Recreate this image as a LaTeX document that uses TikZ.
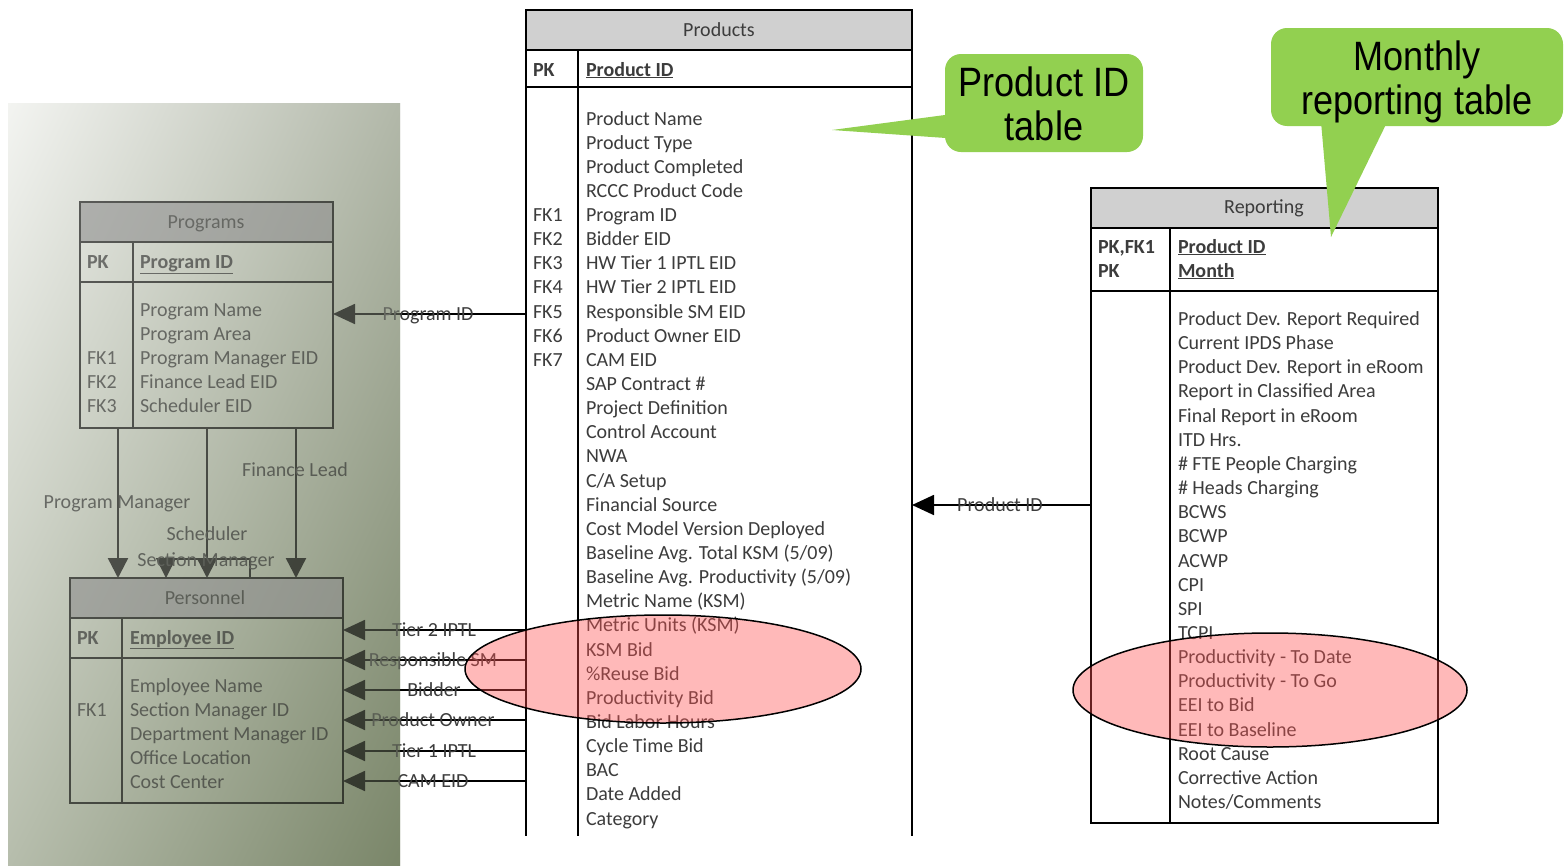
\documentclass[tikz,border=0pt]{standalone}
\usepackage{fontspec}
\setmainfont{Carlito}
\newfontfamily\arialfont{Liberation Sans}
\usetikzlibrary{arrows.meta,shadings}
\definecolor{hdr}{HTML}{D0D0D0}
\definecolor{phdr}{HTML}{8E8E8E}
\definecolor{txt}{HTML}{3C3C3C}
\definecolor{cgreen}{HTML}{92D050}
\definecolor{pinkf}{HTML}{FF5050}
\definecolor{pUL}{HTML}{F3F4F1}
\definecolor{pUR}{HTML}{B2B8A9}
\definecolor{pLL}{HTML}{B6BDAC}
\definecolor{pLR}{HTML}{7A8669}
\begin{document}
\begin{tikzpicture}[x=1pt,y=-1pt,
  every node/.style={inner sep=0pt, outer sep=0pt},
  rowtxt/.style={anchor=base west, font=\fontsize{20}{24}\selectfont, text=txt},
  ptxt/.style={rowtxt, text=black!85},
  hdrtxt/.style={anchor=base, font=\fontsize{20}{24}\selectfont, text=txt},
  lbl/.style={anchor=base, font=\fontsize{20}{24}\selectfont, text=txt},
  tblframe/.style={draw=black, line width=1.4pt, anchor=north west},
  tline/.style={draw=black, line width=1.4pt},
  harr/.style={draw=black, line width=1.8pt, -{Triangle[width=20pt,length=22pt]}},
  varr/.style={draw=black, line width=2.4pt, -{Triangle[width=20pt,length=20pt]}},
  ctxt/.style={anchor=base, font=\arialfont\fontsize{41}{44}\selectfont, text=black},
  callout/.style={fill=cgreen, rounded corners=16pt},
  hilite/.style={draw=black, line width=1.5pt, fill=pinkf, fill opacity=0.4}
]
\useasboundingbox (0,0) rectangle (1566,865);
\fill[white] (0,0) rectangle (1566,865);

% ---------- left panel (background) ----------
\shade[upper left=pUL, upper right=pUR, lower left=pLL, lower right=pLR] (8,103) rectangle (400,865);

% ---------- Programs ----------
\fill[phdr] (80,202) rectangle (333,242);
\node[tblframe, minimum width=253pt, minimum height=226pt] (prog) at (80,202) {};
\draw[tline] (prog.west |- 0,242) -- (prog.east |- 0,242);
\draw[tline] (prog.west |- 0,282) -- (prog.east |- 0,282);
\draw[tline] (133,242) -- (prog.south -| 133,0);
\node[hdrtxt, text=black!85] (progh) at (206,228) {Programs};
\node[ptxt] (progpk) at (87,268) {\textbf{PK}};
\node[ptxt] (progid) at (140,268) {\textbf{\underline{Program ID}}};
\foreach \t [count=\i from 0] in {Program Name, Program Area, Program Manager EID, Finance Lead EID, Scheduler EID}
  \node[ptxt] (progr\i) at (140,{316+24*\i}) {\t};
\foreach \k [count=\i from 2] in {FK1,FK2,FK3}
  \node[ptxt] (progk\i) at (87,{316+24*\i}) {\k};

% ---------- Personnel ----------
\fill[phdr] (70,578) rectangle (343,618);
\node[tblframe, minimum width=273pt, minimum height=225pt] (pers) at (70,578) {};
\draw[tline] (pers.west |- 0,618) -- (pers.east |- 0,618);
\draw[tline] (pers.west |- 0,658) -- (pers.east |- 0,658);
\draw[tline] (122,618) -- (pers.south -| 122,0);
\node[hdrtxt, text=black!85] (persh) at (205,604) {Personnel};
\node[ptxt] (perspk) at (77,644) {\textbf{PK}};
\node[ptxt] (persid) at (130,644) {\textbf{\underline{Employee ID}}};
\foreach \t [count=\i from 0] in {Employee Name, Section Manager ID, Department Manager ID, Office Location, Cost Center}
  \node[ptxt] (persr\i) at (130,{692+24*\i}) {\t};
\node[ptxt] (persk) at (77,716) {FK1};

% ---------- vertical relations ----------
\draw[varr] (prog.south -| 118,0) -- (pers.north -| 118,0);
\draw[varr] (prog.south -| 207,0) -- (pers.north -| 207,0);
\draw[varr] (prog.south -| 296,0) -- (pers.north -| 296,0);
\draw[varr, line width=1.8pt] (pers.north -| 250,0) -- (250,559) -- (166,559) -- (pers.north -| 166,0);
\node[lbl, text=black!85] (lpm) at (117,508) {Program Manager};
\node[lbl, text=black!85] (lsch) at (207,540) {Scheduler};
\node[lbl, text=black!85] (lsm) at (206,566) {Section Manager};
\node[lbl, text=black!85] (lfl) at (295,476) {Finance Lead};

% ---------- Products frame (needed for connectors) ----------
\begin{scope}
\clip (0,0) rectangle (1566,835);
\fill[hdr] (526,10) rectangle (912,50);
\node[tblframe, minimum width=386pt, minimum height=900pt] (prod) at (526,10) {};
\draw[tline] (prod.west |- 0,50) -- (prod.east |- 0,50);
\draw[tline] (prod.west |- 0,87) -- (prod.east |- 0,87);
\draw[tline] (578,50) -- (578,900);
\end{scope}

% ---------- horizontal relations to the left ----------
\draw[harr] (prod.west |- 0,314) -- (prog.east |- 0,314);
\draw[harr] (prod.west |- 0,630) -- (pers.east |- 0,630);
\draw[harr] (prod.west |- 0,660) -- (pers.east |- 0,660);
\draw[harr] (prod.west |- 0,690) -- (pers.east |- 0,690);
\draw[harr] (prod.west |- 0,720) -- (pers.east |- 0,720);
\draw[harr] (prod.west |- 0,751) -- (pers.east |- 0,751);
\draw[harr] (prod.west |- 0,781) -- (pers.east |- 0,781);
\node[lbl] (lpid) at (428,320) {Program ID};
\node[lbl] (lt2) at (434,636) {Tier 2 IPTL};
\node[lbl] (lrsm) at (433,666) {Responsible SM};
\node[lbl] (lbid) at (434,696) {Bidder};
\node[lbl] (lpo) at (433,726) {Product Owner};
\node[lbl] (lt1) at (434,757) {Tier 1 IPTL};
\node[lbl] (lcam) at (433,787) {CAM EID};

% ---------- panel veil ----------
\shade[fill opacity=0.4, upper left=pUL, upper right=pUR, lower left=pLL, lower right=pLR] (8,103) rectangle (400,865);

% ---------- Products texts ----------
\node[hdrtxt] (prodh) at (719,36) {Products};
\node[rowtxt] (prodpk) at (533,76) {\textbf{PK}};
\node[rowtxt] (prodid) at (586,76) {\textbf{\underline{Product ID}}};
\foreach \t [count=\i from 0] in {Product Name, Product Type, Product Completed, RCCC Product Code,
  Program ID, Bidder EID, HW Tier 1 IPTL EID, HW Tier 2 IPTL EID, Responsible SM EID,
  Product Owner EID, CAM EID, SAP Contract \#, Project Definition, Control Account, NWA,
  {C/A Setup}, Financial Source, Cost Model Version Deployed, {Baseline Avg. Total KSM (5/09)},
  {Baseline Avg. Productivity (5/09)}, Metric Name (KSM), Metric Units (KSM), KSM Bid,
  \%Reuse Bid, Productivity Bid, Bid Labor Hours, Cycle Time Bid, BAC, Date Added, Category}
  \node[rowtxt] (prodr\i) at (586,{125+24.14*\i}) {\t};
\foreach \k [count=\i from 4] in {FK1,FK2,FK3,FK4,FK5,FK6,FK7}
  \node[rowtxt] (prodk\i) at (533,{125+24.14*\i}) {\k};

% ---------- Reporting ----------
\fill[hdr] (1091,188) rectangle (1438,228);
\node[tblframe, minimum width=347pt, minimum height=635pt] (rep) at (1091,188) {};
\draw[tline] (rep.west |- 0,228) -- (rep.east |- 0,228);
\draw[tline] (rep.west |- 0,291) -- (rep.east |- 0,291);
\draw[tline] (1170,228) -- (rep.south -| 1170,0);
\node[hdrtxt] (reph) at (1264,213) {Reporting};
\node[rowtxt] (reppk1) at (1098,253) {\textbf{PK,FK1}};
\node[rowtxt] (reppk2) at (1098,277) {\textbf{PK}};
\node[rowtxt] (repid) at (1178,253) {\textbf{\underline{Product ID}}};
\node[rowtxt] (repmo) at (1178,277) {\textbf{\underline{Month}}};
\foreach \t [count=\i from 0] in {Product Dev. Report Required, Current IPDS Phase,
  Product Dev. Report in eRoom, Report in Classified Area, Final Report in eRoom, ITD Hrs.,
  \# FTE People Charging, \# Heads Charging, BCWS, BCWP, ACWP, CPI, SPI, TCPI,
  Productivity - To Date, Productivity - To Go, EEI to Bid, EEI to Baseline, Root Cause,
  Corrective Action, {Notes/Comments}}
  \node[rowtxt] (repr\i) at (1178,{325.5+24.15*\i}) {\t};

\draw[harr] (rep.west |- 0,505) -- (prod.east |- 0,505);
\node[lbl] (lprid) at (1000,511) {Product ID};

% ---------- highlights ----------
\path[hilite] (663,669) ellipse [x radius=198pt, y radius=54pt];
\path[hilite] (1270,690) ellipse [x radius=197pt, y radius=57pt];

% ---------- callouts ----------
\coordinate (tip1) at (832,130);
\fill[cgreen] (960,113) -- (tip1) -- (960,139) -- cycle;
\node[callout, minimum width=198pt, minimum height=98pt] (c1) at (1044,103) {};
\node[ctxt] (c1a) at (1044,96) {\scalebox{.88}[1]{Product ID}};
\node[ctxt] (c1b) at (1044,140) {\scalebox{.88}[1]{table}};

\coordinate (tip2) at (1331,237);
\fill[cgreen] (1320,110) -- (tip2) -- (1393,110) -- cycle;
\node[callout, minimum width=292pt, minimum height=98pt] (c2) at (1417,77) {};
\node[ctxt] (c2a) at (1417,70) {\scalebox{.88}[1]{Monthly}};
\node[ctxt] (c2b) at (1417,114) {\scalebox{.88}[1]{reporting table}};
\end{tikzpicture}
\end{document}
